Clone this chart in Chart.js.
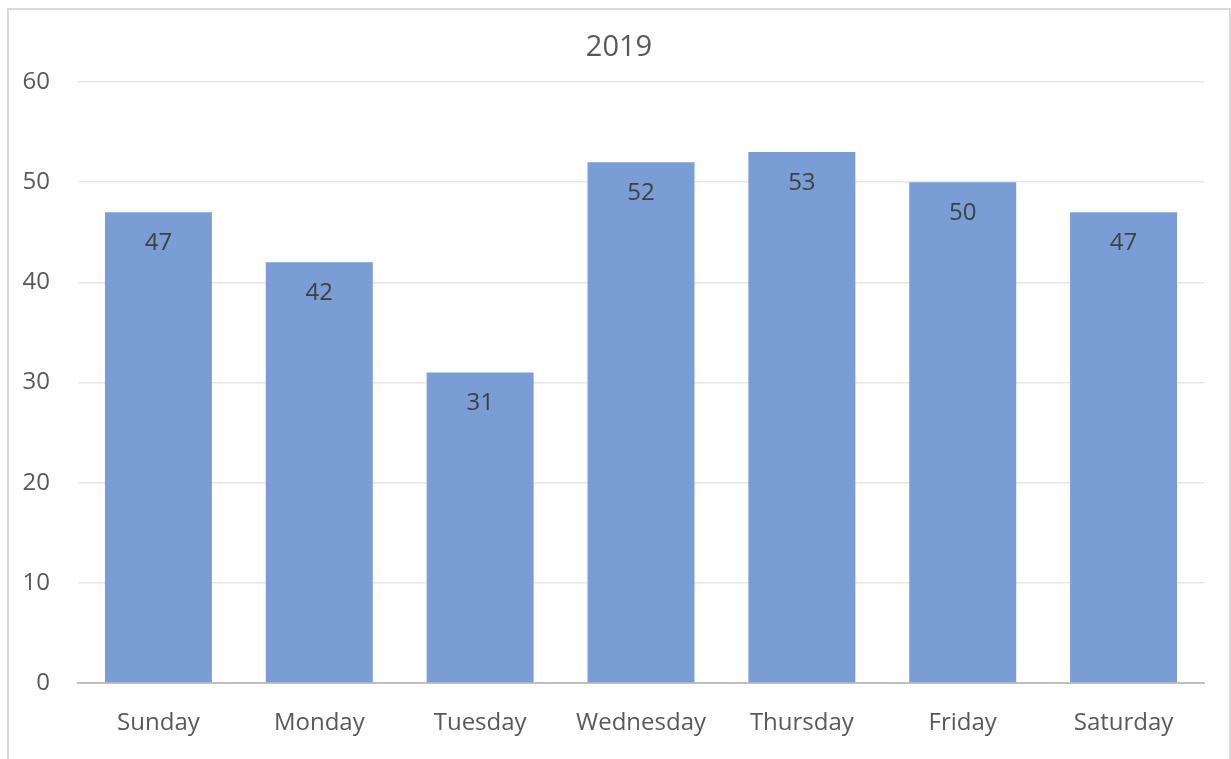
<!DOCTYPE html>
<html>
<head>
<meta charset="utf-8">
<script src="https://cdn.jsdelivr.net/npm/chart.js@4"></script>
<style>
  body { margin: 0; background: #fff; }
  #box { position: absolute; left: 7px; top: 8px; width: 1220px; height: 749px; border: 2px solid #d9d9d9; border-bottom: none; }
</style>
</head>
<body>
<div id="box"><canvas id="myChart"></canvas></div>
<script>
const chartTitle = '2019';
const days = ['Sunday', 'Monday', 'Tuesday', 'Wednesday', 'Thursday', 'Friday', 'Saturday'];
const visits = [47, 42, 31, 52, 53, 50, 47];
const yTicks = [0, 10, 20, 30, 40, 50, 60];

// title centred on the whole frame, labels inside the top of each bar
const extras = {
    id: 'extras',
    afterDatasetsDraw(chart) {
        const c = chart.ctx;
        c.save();
        c.textAlign = 'center';
        c.textBaseline = 'middle';
        c.font = '29px "Open Sans"';
        c.fillStyle = '#595959';
        c.fillText(chartTitle, chart.width / 2, 38);
        c.font = '24px "Open Sans"';
        c.fillStyle = '#404040';
        chart.getDatasetMeta(0).data.forEach((bar, i) => {
            c.fillText(visits[i], bar.x, bar.y + 31);
        });
        c.restore();
    }
};

const ctx = document.getElementById('myChart');
ctx.width = 1220; ctx.height = 749;

new Chart(ctx, {
    type: 'bar',
    data: {
        labels: days,
        datasets: [{
            label: chartTitle,
            data: visits,
            backgroundColor: '#7a9dd5',
            barPercentage: 1,
            categoryPercentage: 0.665
        }]
    },
    options: {
        responsive: false,
        animation: false,
        layout: { padding: { top: 72, right: 25, bottom: 16, left: 0 } },
        plugins: {
            legend: { display: false },
            tooltip: { enabled: false },
            title: { display: false }
        },
        scales: {
            x: {
                grid: { display: false, drawTicks: false },
                border: { color: '#bfbfbf', width: 2 },
                ticks: { color: '#595959', font: { family: '"Open Sans"', size: 24 }, padding: 26, maxRotation: 0 },
                afterFit(s) { s.height = 60; }
            },
            y: {
                min: 0,
                max: 60,
                afterBuildTicks(s) { s.ticks = yTicks.map(v => ({ value: v })); },
                grid: { color: '#e6e6e6', lineWidth: 1.5, drawTicks: false },
                border: { display: false },
                ticks: { color: '#595959', font: { family: '"Open Sans"', size: 24 }, padding: 28 },
                afterFit(s) { s.width = 69; }
            }
        }
    },
    plugins: [extras]
});
</script>
</body>
</html>
